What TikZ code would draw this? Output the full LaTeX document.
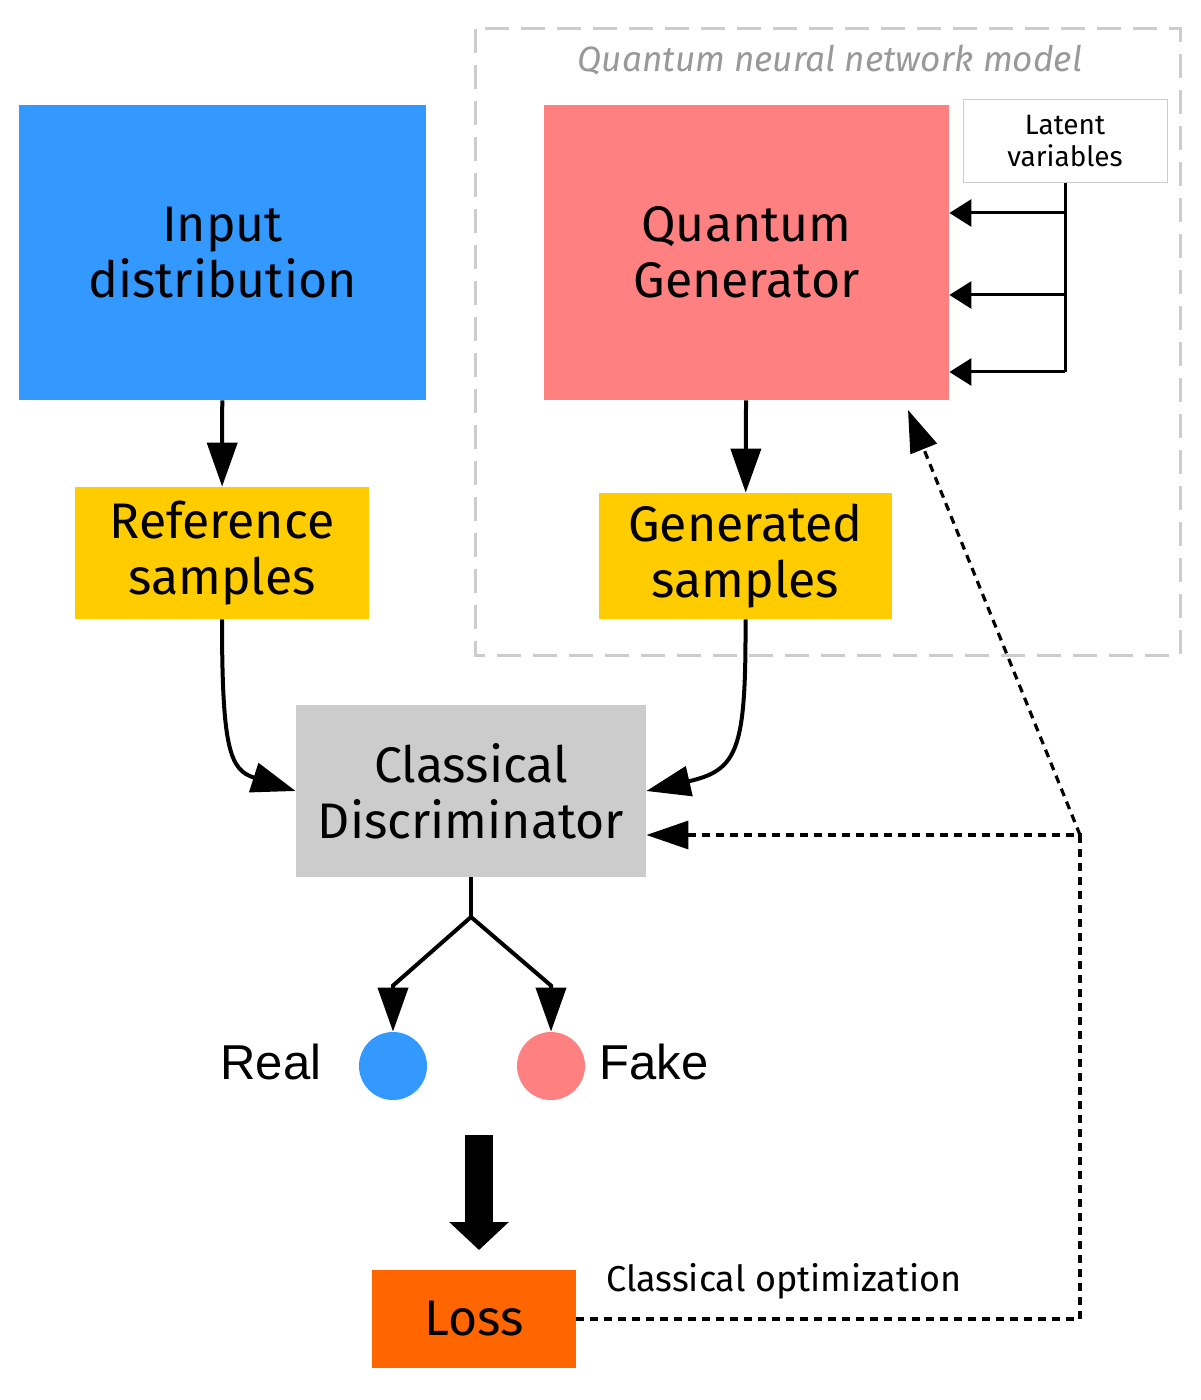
\documentclass[tikz,border=0pt]{standalone}
\usepackage{fontspec}
\setmainfont{Fira Sans}
\newfontfamily\arialfont{Liberation Sans}
\usepackage{tikz}
\usetikzlibrary{arrows.meta}
\usetikzlibrary{positioning}
\usetikzlibrary{calc}
\definecolor{inputblue}{HTML}{3399FF}
\definecolor{genred}{HTML}{FF8080}
\definecolor{sampleyellow}{HTML}{FFCC00}
\definecolor{discgray}{HTML}{CCCCCC}
\definecolor{lossorange}{HTML}{FF6600}
\definecolor{titlegray}{HTML}{999999}
\tikzstyle{block}=[inner sep=0pt,align=center,font=\fontsize{25}{28}\selectfont]
\tikzstyle{flow}=[line width=2pt,-{Triangle[length=22pt,width=15pt]}]
\tikzstyle{feedback}=[line width=1.6pt,dash pattern=on 4pt off 3pt,-{Triangle[length=21pt,width=14pt]}]
\tikzstyle{latent}=[line width=1.5pt,-{Triangle[length=11pt,width=13.5pt]}]
\tikzstyle{outcome}=[circle,inner sep=0pt,minimum size=34pt]

\begin{document}
\begin{tikzpicture}[x=0.5pt,y=-0.5pt]
\useasboundingbox (0,0) rectangle (1200,1400);
\draw[discgray,line width=1.5pt,dash pattern=on 12pt off 6pt] (475,29) rectangle (1180,655);
\node[font=\itshape\fontsize{17.6}{20}\selectfont,text=titlegray] (title) at (830,60) {Quantum neural network model};

\node[block,fill=inputblue,minimum width=203.5pt,minimum height=147.5pt] (input) at (222.5,252.5) {Input\\distribution};
\node[block,fill=genred,minimum width=202.5pt,minimum height=147.5pt] (gen) at (746.5,252.5) {Quantum\\Generator};
\node[draw=discgray,fill=white,line width=0.5pt,minimum width=102pt,minimum height=41.5pt,align=center,font=\fontsize{14}{16}\selectfont] (latent) at (1065,141.5) {Latent\\variables};
\node[block,fill=sampleyellow,minimum width=147pt,minimum height=66pt] (ref) at (222,553) {Reference\\samples};
\node[block,fill=sampleyellow,minimum width=146.5pt,minimum height=63pt] (gensamp) at (745.5,556) {Generated\\samples};
\node[block,fill=discgray,minimum width=175pt,minimum height=86pt] (disc) at (471,791) {Classical\\Discriminator};
\node[outcome,fill=inputblue] (real) at (393,1066) {};
\node[outcome,fill=genred] (fake) at (551,1066) {};
\node[font=\arialfont\fontsize{24.5}{28}\selectfont] (reallabel) at (271,1062) {Real};
\node[font=\arialfont\fontsize{24.5}{28}\selectfont] (fakelabel) at (654,1062) {Fake};
\node[block,fill=lossorange,minimum width=102pt,minimum height=49pt] (loss) at (474,1319) {Loss};
\node[font=\fontsize{18}{20}\selectfont] (optlabel) at (784,1281) {Classical optimization};

% latent inputs
\coordinate (l1) at (1065,213);
\coordinate (l2) at (1065,295);
\coordinate (l3) at (1065,372);
\draw[line width=1.5pt] (latent.south) -- (l3);
\foreach \l in {l1,l2,l3}
  \draw[latent] (\l) -- (gen.east |- \l);

\draw[flow] (input) -- (ref);
\draw[flow] (gen) -- (gensamp);
\draw[flow] (ref.south) .. controls (222,750) and (230,770) .. (disc.west);
\draw[flow] (gensamp.south) .. controls (746,750) and (738,770) .. (disc.east);

\coordinate (split) at (471,917);
\draw[line width=2pt] (disc.south) -- (split);
\draw[flow] (split) -- ($(real.north)+(0,-46)$) -- (real.north);
\draw[flow] (split) -- ($(fake.north)+(0,-46)$) -- (fake.north);

\coordinate (bigtop) at (479,1135);
\coordinate (bigtip) at (479,1250);
\draw[line width=14pt,-{Triangle[length=14pt,width=29pt]}] (bigtop) -- (bigtip);

% feedback
\coordinate (corner) at (1080,835);
\coordinate (gentarget) at (908,410);
\draw[feedback] (loss.east) -| (corner) -- (disc.east |- corner);
\draw[feedback] (corner) -- (gentarget);
\end{tikzpicture}
\end{document}
